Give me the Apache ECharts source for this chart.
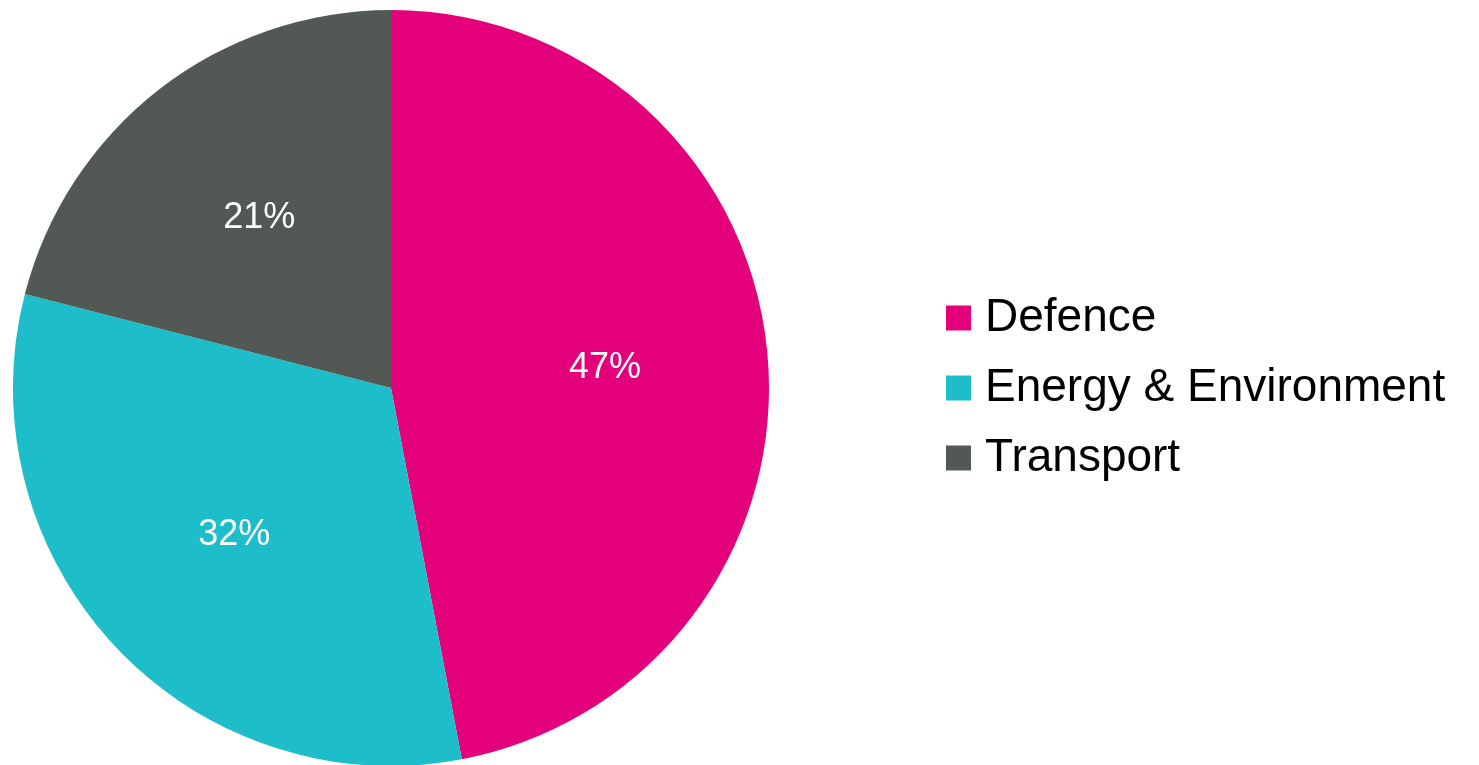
<!DOCTYPE html>
<html>
<head>
<meta charset="utf-8">
<script src="https://cdn.jsdelivr.net/npm/echarts@6/dist/echarts.min.js"></script>
<style>html,body{margin:0;padding:0;background:#fff;}#c{width:1479px;height:765px;}</style>
</head>
<body>
<div id="c"></div>
<script>
const categories = ['Defence', 'Energy & Environment', 'Transport'];
const values = [47, 32, 21];
const colors = ['#E3007A', '#1DBDC9', '#525853'];

const R = 378;
const labelR = 212;
const total = values.reduce((a, b) => a + b, 0);
let acc = 0;
const data = categories.map((name, i) => {
  const mid = (acc + values[i] / 2) / total * 2 * Math.PI;
  acc += values[i];
  const extra = labelR - R / 2;
  return {
    name: name,
    value: values[i],
    itemStyle: { color: colors[i] },
    label: { offset: [extra * Math.sin(mid), -extra * Math.cos(mid)] }
  };
});

const chart = echarts.init(document.getElementById('c'), null, { renderer: 'canvas' });
chart.setOption({
  animation: false,
  legend: {
    orient: 'vertical',
    left: 946,
    top: 295,
    padding: 0,
    icon: 'rect',
    itemWidth: 25,
    itemHeight: 25,
    itemGap: 24,
    data: categories,
    textStyle: { fontFamily: 'Liberation Sans, Arial, sans-serif', fontSize: 46, color: '#000', lineHeight: 46, padding: [0, 0, 0, 9] }
  },
  series: [{
    type: 'pie',
    center: [391, 388],
    radius: [0, R],
    startAngle: 90,
    clockwise: true,
    silent: true,
    label: {
      show: true,
      position: 'inside',
      formatter: '{c}%',
      color: '#fff',
      fontSize: 36,
      fontFamily: 'Liberation Sans, Arial, sans-serif'
    },
    labelLine: { show: false },
    itemStyle: { borderWidth: 0 },
    data: data
  }]
});
</script>
</body>
</html>
